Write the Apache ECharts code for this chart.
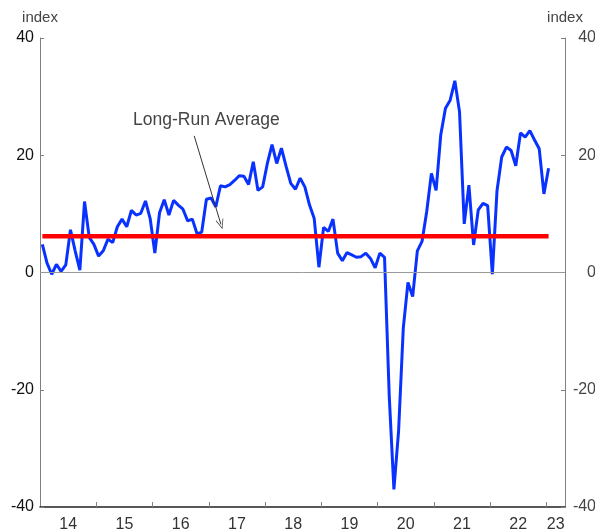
<!DOCTYPE html>
<html>
<head>
<meta charset="utf-8">
<script src="https://cdn.jsdelivr.net/npm/echarts@6/dist/echarts.min.js"></script>
<style>
html,body{margin:0;padding:0;background:#fff;}
#chart{width:595px;height:530px;}
</style>
</head>
<body>
<div id="chart"></div>
<script>
// Monthly index values, Jan 2014 .. Jan 2023
const startYear = 2014;
const values = [
  4.8, 1.6, -0.3, 1.4, 0.2, 1.3, 7.3, 3.7, 0.4, 12.1, 6.0, 4.8,
  2.8, 3.7, 5.7, 5.1, 7.8, 9.1, 7.8, 10.6, 9.8, 10.1, 12.2, 9.2,
  3.3, 10.2, 12.4, 9.8, 12.3, 11.5, 10.8, 8.8, 9.1, 6.6, 6.9, 12.5,
  12.7, 11.2, 14.8, 14.6, 15.0, 15.7, 16.5, 16.4, 15.0, 18.9, 14.0, 14.6,
  18.6, 21.8, 18.6, 21.2, 18.1, 15.2, 14.2, 16.1, 14.6, 11.5, 9.2, 0.9,
  7.7, 7.0, 9.1, 3.3, 2.0, 3.4, 3.0, 2.6, 2.7, 3.3, 2.4, 0.8,
  3.3, 2.6, -21, -37, -27, -9.5, -1.7, -4.1, 3.7, 5.3, 10.4, 16.9,
  14.0, 23.5, 28.0, 29.4, 32.7, 27.4, 8.3, 14.9, 4.7, 10.7, 11.8, 11.4,
  -0.3, 14.0, 19.7, 21.4, 20.8, 18.2, 23.8, 23.1, 24.2, 22.6, 21.1, 13.4,
  17.8
];
const longRunAverage = 6.2;
const yearLabels = ['14','15','16','17','18','19','20','21','22','23'];
const yTicks = [-40, -20, 0, 20, 40];
const annotationText = 'Long-Run Average';
const annotationTextAt = [35.5, 25.9];
const annotationArrow = [[32.9, 23.3], [38.6, 8.2]];

const xMax = 112; // months from Jan 2014 shown on axis
const seriesData = values.map((v, i) => [i + 0.5, v]);
const avgData = [[0.5, longRunAverage], [values.length - 0.5, longRunAverage]];
const tickVals = yearLabels.slice(1).map((_, k) => 12 * (k + 1));
const labelVals = yearLabels.map((_, k) => (12 * k + Math.min(12 * k + 12, xMax)) / 2);
const labelMap = {};
labelVals.forEach((p, k) => labelMap[p] = yearLabels[k]);

const FONT = 'Liberation Sans, Arial, sans-serif';
const chart = echarts.init(document.getElementById('chart'));

const yAxisBase = {
  type: 'value', min: yTicks[0], max: yTicks[yTicks.length - 1], interval: 20,
  splitLine: { show: false },
  axisLine: { show: true, onZero: false, lineStyle: { color: '#808080', width: 1 } },
  axisTick: { show: true, inside: true, length: 4, lineStyle: { color: '#808080' } },
  name: 'index', nameLocation: 'end', nameGap: 13,
  nameTextStyle: { color: '#444', fontSize: 15, fontFamily: FONT }
};

chart.setOption({
  animation: false,
  backgroundColor: '#fff',
  grid: { left: 40, right: 30, top: 38, bottom: 23, containLabel: false, outerBoundsMode: 'none' },
  xAxis: {
    type: 'value', min: 0, max: xMax,
    splitLine: { show: false },
    axisLine: { show: true, onZero: false, lineStyle: { color: '#222', width: 1.5 } },
    axisTick: { show: true, inside: true, length: 5, customValues: tickVals, lineStyle: { color: '#808080' } },
    axisLabel: {
      customValues: labelVals, margin: 10,
      formatter: v => labelMap[v] || '',
      color: '#333', fontSize: 16, fontFamily: FONT
    }
  },
  yAxis: [
    Object.assign({}, yAxisBase, {
      position: 'left',
      axisLabel: { margin: 6, color: '#111', fontSize: 16, fontFamily: FONT }
    }),
    Object.assign({}, yAxisBase, {
      position: 'right',
      axisLabel: { margin: 31, align: 'right', color: '#444', fontSize: 16, fontFamily: FONT }
    })
  ],
  series: [
    {
      type: 'line', data: seriesData, showSymbol: false, symbol: 'none',
      lineStyle: { color: '#0a32ff', width: 3 }, z: 3,
      markLine: {
        silent: true, symbol: 'none', animation: false,
        lineStyle: { color: '#999', width: 1, type: 'solid' },
        label: { show: false },
        data: [{ yAxis: 0 }]
      },
      markPoint: {
        silent: true, symbol: 'circle', symbolSize: 0,
        label: { show: true, position: 'inside', formatter: annotationText, color: '#444', fontSize: 17.5, fontFamily: FONT },
        data: [{ coord: annotationTextAt }]
      }
    },
    {
      type: 'line', data: avgData, showSymbol: false, symbol: 'none',
      lineStyle: { color: '#ff0000', width: 4.5 }, z: 4,
      markLine: {
        silent: true, animation: false,
        symbol: ['none', 'path://M5,0 L10,12 L9,12 L5,2 L1,12 L0,12 Z'],
        symbolSize: [8, 10],
        lineStyle: { color: '#333', width: 1, type: 'solid' },
        label: { show: false },
        data: [[{ coord: annotationArrow[0] }, { coord: annotationArrow[1] }]]
      }
    }
  ]
});
</script>
</body>
</html>
